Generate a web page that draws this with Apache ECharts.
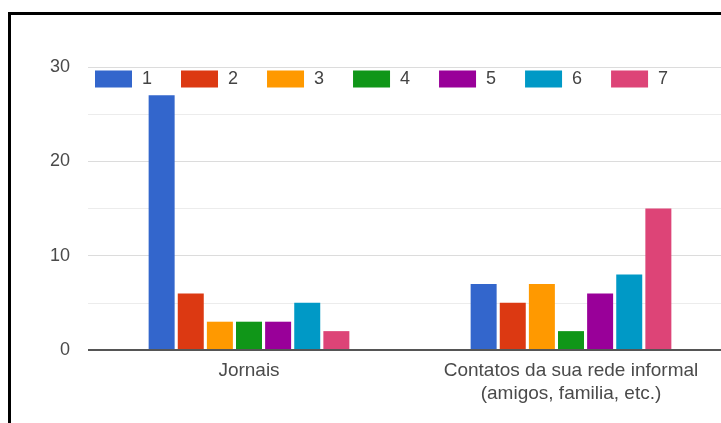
<!DOCTYPE html>
<html>
<head>
<meta charset="utf-8">
<script src="https://cdn.jsdelivr.net/npm/echarts@6/dist/echarts.min.js"></script>
<style>
  html, body { margin: 0; padding: 0; background: #fff; }
  #chart { width: 721px; height: 423px; }
</style>
</head>
<body>
<div id="chart"></div>
<script>
const categories = ['Jornais', 'Contatos da sua rede informal\n(amigos, familia, etc.)'];
const seriesNames = ['1', '2', '3', '4', '5', '6', '7'];
const colors = ['#3366cc', '#dc3912', '#ff9900', '#109618', '#990099', '#0099c6', '#dd4477'];
// one array per answer, values for [Jornais, Contatos]
const s1 = [27, 7];
const s2 = [6, 5];
const s3 = [3, 7];
const s4 = [3, 2];
const s5 = [3, 6];
const s6 = [5, 8];
const s7 = [2, 15];
const values = [s1, s2, s3, s4, s5, s6, s7];
const yTicks = [0, 10, 20, 30];

const font = '"Liberation Sans", Arial, sans-serif';
let myChart = echarts.init(document.getElementById('chart'));

let option = {
  animation: false,
  backgroundColor: '#fff',
  color: colors,
  textStyle: { fontFamily: font },
  legend: {
    left: 90,
    top: 65,
    itemWidth: 37,
    itemHeight: 17,
    itemGap: 29,
    icon: 'rect',
    data: seriesNames,
    textStyle: { fontSize: 18, color: '#444', padding: [0, 0, 0, 5] },
  },
  grid: {
    left: 88,
    top: 67,
    width: 644,
    height: 283,
    outerBoundsMode: 'none',
  },
  xAxis: {
    type: 'category',
    data: categories,
    axisTick: { show: false },
    axisLine: { show: false },
    axisLabel: {
      color: '#4a4a4a',
      fontSize: 19,
      lineHeight: 23,
      margin: 9,
      interval: 0,
    },
  },
  yAxis: {
    type: 'value',
    min: yTicks[0],
    max: yTicks[yTicks.length - 1],
    interval: 10,
    axisLine: { show: false },
    axisTick: { show: false },
    axisLabel: { color: '#4a4a4a', fontSize: 18, margin: 18 },
    splitLine: { lineStyle: { color: '#dcdcdc', width: 1 } },
    minorTick: { show: false, splitNumber: 2 },
    minorSplitLine: { show: true, lineStyle: { color: '#ececec', width: 1 } },
  },
  series: seriesNames.map((name, i) => ({
    name: name,
    type: 'bar',
    data: values[i],
    barWidth: 26,
    barGap: '12%',
  })).concat([{
    // baseline at zero
    type: 'line',
    data: [],
    markLine: {
      silent: true,
      symbol: 'none',
      label: { show: false },
      lineStyle: { color: '#555', width: 2, type: 'solid' },
      data: [{ yAxis: 0 }],
    },
  }]),
  graphic: [
    { type: 'rect', shape: { x: 8, y: 12, width: 713, height: 3 }, style: { fill: '#000' } },
    { type: 'rect', shape: { x: 8, y: 12, width: 3, height: 411 }, style: { fill: '#000' } },
  ],
};

myChart.setOption(option);
</script>
</body>
</html>
